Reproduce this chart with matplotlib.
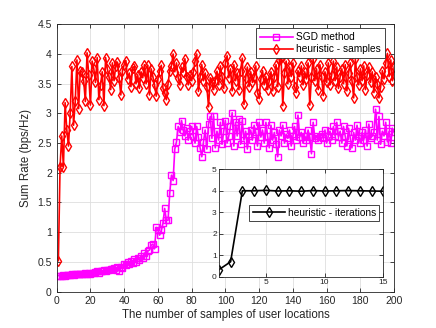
import matplotlib
matplotlib.use('Agg')
import matplotlib.pyplot as plt
import numpy as np

plt.rcParams['font.family'] = ['Liberation Sans', 'DejaVu Sans']

# heuristic - samples (rouge)
heur = [0.52, 2.10, 2.62, 2.10, 3.18, 2.72, 2.45, 3.00, 3.79, 2.80,
        3.20, 3.90, 3.08, 3.72, 3.70, 3.55, 3.20, 4.02, 3.65, 3.14,
        3.88, 3.75, 3.52, 3.94, 3.23, 3.48, 3.70, 3.13, 3.94, 3.75,
        3.62, 3.40, 3.85, 3.55, 3.80, 3.86, 3.60, 3.31, 3.72, 3.82,
        3.89, 3.58, 3.68, 3.45, 3.77, 3.79, 3.50, 3.65, 3.42, 3.70,
        3.60, 3.82, 3.50, 3.81, 3.31, 3.75, 3.62, 3.48, 3.29, 3.58,
        3.72, 3.81, 3.42, 3.35, 3.23, 3.50, 3.72, 3.80, 4.00, 3.70,
        3.85, 3.60, 3.48, 3.78, 3.70, 3.92, 3.62, 3.48, 3.65, 3.55,
        3.70, 3.88, 4.00, 3.37, 3.62, 3.82, 3.55, 3.68, 3.45, 3.11,
        3.60, 3.52, 3.40, 3.55, 3.71, 3.48, 3.80, 3.62, 3.42, 3.85,
        3.97, 3.60, 3.75, 3.38, 3.82, 3.55, 3.68, 3.40, 3.72, 3.93,
        3.15, 3.60, 3.78, 3.45, 3.70, 3.52, 3.62, 3.80, 3.35, 3.25,
        3.58, 3.72, 3.48, 3.62, 3.40, 3.55, 3.70, 3.38, 3.62, 3.82,
        3.45, 3.90, 3.93, 3.13, 3.68, 3.88, 3.50, 3.78, 3.62, 3.85,
        3.45, 3.35, 3.72, 3.62, 3.80, 3.48, 3.70, 3.58, 3.85, 3.14,
        3.62, 3.91, 3.55, 3.75, 3.40, 3.82, 3.62, 3.30, 3.70, 3.52,
        3.85, 3.48, 3.65, 3.88, 3.55, 3.78, 3.42, 3.62, 3.75, 3.50,
        3.82, 3.38, 3.68, 3.85, 3.55, 3.26, 3.91, 3.62, 3.48, 3.75,
        3.55, 3.80, 3.40, 3.65, 3.78, 3.52, 3.70, 3.35, 3.62, 3.50,
        3.26, 3.45, 3.72, 3.58, 3.85, 4.01, 3.62, 3.90, 3.55, 3.78]

# SGD method (magenta)
sgd = [0.27, 0.27, 0.27, 0.28, 0.27, 0.28, 0.28, 0.28, 0.29, 0.28,
       0.29, 0.29, 0.30, 0.29, 0.30, 0.30, 0.31, 0.30, 0.32, 0.30,
       0.32, 0.31, 0.33, 0.34, 0.32, 0.35, 0.34, 0.36, 0.35, 0.37,
       0.36, 0.38, 0.38, 0.40, 0.37, 0.41, 0.35, 0.42, 0.40, 0.47,
       0.44, 0.50, 0.46, 0.52, 0.48, 0.55, 0.50, 0.56, 0.53, 0.60,
       0.57, 0.65, 0.60, 0.68, 0.70, 0.78, 0.80, 0.72, 1.08, 1.04,
       0.95, 1.03, 1.15, 1.40, 1.20, 1.20, 1.66, 1.96, 1.87, 2.40,
       2.52, 2.78, 2.68, 2.88, 2.72, 2.62, 2.75, 2.55, 2.70, 2.78,
       2.62, 2.50, 2.78, 2.60, 2.42, 2.27, 2.52, 2.72, 2.40, 2.82,
       2.95, 2.58, 2.95, 2.42, 2.70, 2.55, 2.85, 2.48, 2.70, 2.88,
       2.50, 2.62, 2.78, 3.01, 2.45, 2.85, 2.62, 2.90, 2.48, 2.88,
       2.55, 2.70, 2.40, 2.62, 2.72, 2.55, 2.80, 2.68, 2.45, 2.85,
       2.60, 2.72, 2.50, 2.85, 2.62, 2.42, 2.80, 2.55, 2.68, 2.48,
       2.27, 2.72, 2.62, 2.80, 2.50, 2.65, 2.58, 2.72, 2.45, 2.62,
       2.78, 2.55, 2.97, 2.60, 2.68, 2.50, 2.62, 2.55, 2.72, 2.60,
       2.32, 2.85, 2.58, 2.62, 2.55, 2.60, 2.66, 2.58, 2.72, 2.50,
       2.62, 2.70, 2.55, 2.78, 2.62, 2.85, 2.60, 2.70, 2.50, 2.78,
       2.62, 2.45, 2.75, 2.58, 2.42, 2.68, 2.55, 2.80, 2.62, 2.50,
       2.68, 2.55, 2.72, 2.45, 2.82, 2.58, 2.62, 2.68, 3.07, 2.55,
       2.95, 2.48, 2.70, 2.62, 2.85, 2.52, 2.70, 2.50, 2.75, 2.68]

# heuristic - iterations (encart)
iters = np.arange(1, 16)
heur_it = [0.33, 0.70, 4.00, 4.00, 4.02, 3.99, 4.00, 3.98, 4.01, 3.99,
           4.00, 4.01, 4.00, 3.99, 3.98]

samples = np.arange(1, len(heur) + 1)
axcol = '#262626'

def matlab_style(ax, fs):
    ax.grid(True, color='#dedede', linewidth=0.6)
    ax.set_axisbelow(True)
    ax.tick_params(direction='in', top=True, right=True, labelsize=fs,
                   colors=axcol, length=3, width=0.6)
    for sp in ax.spines.values():
        sp.set_color(axcol)
        sp.set_linewidth(0.6)

fig = plt.figure(figsize=(4.36, 3.28), dpi=100)
ax = fig.add_axes([0.130, 0.111, 0.774, 0.815])
ax.plot(samples, sgd, color='magenta', marker='s', markersize=4.2,
        markerfacecolor='none', markeredgewidth=1.0, linewidth=1.2,
        label='SGD method')
ax.plot(samples, heur, color='red', marker='d', markersize=4.8,
        markerfacecolor='none', markeredgewidth=1.0, linewidth=1.2,
        label='heuristic - samples')
ax.set_xlim(0, 200)
ax.set_ylim(0, 4.5)
ax.set_xticks(np.arange(0, 201, 20))
ax.set_yticks(np.arange(0, 4.51, 0.5))
ax.set_yticklabels(['0', '0.5', '1', '1.5', '2', '2.5', '3', '3.5', '4', '4.5'])
ax.set_xlabel('The number of samples of user locations', fontsize=8.3,
              color=axcol, labelpad=2)
ax.set_ylabel('Sum Rate (bps/Hz)', fontsize=8.3, color=axcol, labelpad=4)
matlab_style(ax, 7.5)
leg = ax.legend(loc='upper right', bbox_to_anchor=(0.973, 0.985),
                borderaxespad=0, fontsize=7.3, fancybox=False,
                framealpha=1, edgecolor=axcol, borderpad=0.4,
                handlelength=3.3, handletextpad=0.3, labelspacing=0.2)
leg.get_frame().set_linewidth(0.6)

# encart
ins = fig.add_axes([0.502, 0.156, 0.377, 0.328])
ins.plot(iters, heur_it, color='black', marker='d', markersize=5,
         markerfacecolor='none', markeredgewidth=1.0, linewidth=1.2,
         label='heuristic - iterations')
ins.set_xlim(1, 15)
ins.set_ylim(0, 5)
ins.set_xticks([5, 10, 15])
ins.set_yticks(np.arange(0, 6, 1))
matlab_style(ins, 6)
ins.tick_params(pad=1.5)
leg2 = ins.legend(loc='center right', bbox_to_anchor=(0.976, 0.593),
                  borderaxespad=0, fontsize=7.3, fancybox=False,
                  framealpha=1, edgecolor=axcol, borderpad=0.3,
                  handlelength=3.2, handletextpad=0.3)
leg2.get_frame().set_linewidth(0.6)

fig.savefig('out.png', dpi=100)
